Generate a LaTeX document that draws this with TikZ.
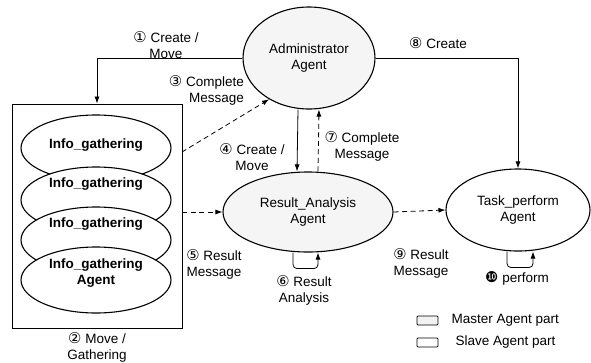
\documentclass[tikz,border=0pt]{standalone}
\usepackage{fontspec}
\setmainfont{Liberation Sans}
\newfontfamily\circfont[Scale=1.1]{DejaVu Sans}
\usetikzlibrary{arrows.meta,positioning,shapes.geometric}
\newcommand{\cnum}[1]{{\circfont #1}}
\newcommand{\diagfont}{\fontsize{13.5}{16}\selectfont}

\begin{document}
\begin{tikzpicture}[
    x=1pt, y=-1pt,
    >=Latex,
    agent/.style={draw, ellipse, line width=1.1pt, inner sep=0pt, align=center, font=\diagfont},
    master/.style={agent, fill=gray!8},
    gather/.style={draw, ellipse, line width=1.1pt, fill=white, minimum width=150pt, minimum height=66pt, inner sep=0pt},
    gtext/.style={align=center, inner sep=0pt, font=\diagfont\bfseries},
    lbl/.style={align=center, inner sep=0pt, font=\diagfont},
    legbox/.style={draw, line width=0.8pt, rounded corners=1pt, minimum width=21pt, minimum height=9pt, inner sep=0pt},
    line/.style={-{Latex[length=7pt,width=5pt]}, line width=0.8pt},
    dline/.style={line, dash pattern=on 5pt off 3.5pt}
]
\useasboundingbox (0,0) rectangle (591,362);

% Master agents and the slave task agent.
\node[master, minimum width=132pt, minimum height=102pt] (admin) at (309,58) {Administrator\\Agent};
\node[master, minimum width=170pt, minimum height=80pt] (ra) at (308,212) {Result\_Analysis\\Agent};
\node[agent, minimum width=144pt, minimum height=82pt] (task) at (518,210) {Task\_perform\\Agent};

% Box of stacked gathering agents.
\node[draw, line width=0.9pt, minimum width=170pt, minimum height=224pt, inner sep=0pt] (box) at (97,216) {};
\node[gather] (ig1) at (96,148) {};
\node[gather] (ig2) at (96,200) {};
\node[gather] (ig3) at (96,240) {};
\node[gather] (ig4) at (96,280) {};
\node[gtext] (ig1t) at (96,145) {Info\_gathering};
\node[gtext] (ig2t) at (96,184) {Info\_gathering};
\node[gtext] (ig3t) at (96,224) {Info\_gathering};
\node[gtext] (ig4t) at (96,273) {Info\_gathering\\Agent};

% Free ends on the box side.
\coordinate (out3) at (182,152);
\coordinate (out5) at (182,212);

% Arrows.
\draw[line] (admin.west) -| (box.north);
\draw[line] (admin.east) -| (task.north);
\draw[dline] (out3) -- (admin.226);
\draw[dline] (out5) -- (ra.west);
\draw[line] ([xshift=-11pt]admin.south) -- ([xshift=-11pt]ra.north);
\draw[dline] ([xshift=10pt]ra.north) -- ([xshift=10pt]admin.south);
\draw[dline] (ra.east) -- (task.west);
\draw[line, rounded corners=4pt] ([xshift=-15pt]ra.south) -- ++(0,16) -- ++(25,0) -- ([xshift=10pt]ra.south);
\draw[line, rounded corners=4pt] ([xshift=-11pt]task.south) -- ++(0,16) -- ++(26,0) -- ([xshift=15pt]task.south);

% Step labels.
\node[lbl] (l1) at (166,45) {\cnum{①} Create /\\Move};
\node[lbl, below=4pt of box] (l2) {\cnum{②} Move /\\Gathering};
\node[lbl, align=right, anchor=east] (l3) at (244,90) {\cnum{③} Complete\\Message};
\node[lbl] (l4) at (252,157) {\cnum{④} Create /\\Move};
\node[lbl] (l5) at (214,264) {\cnum{⑤} Result\\Message};
\node[lbl] (l6) at (304,290) {\cnum{⑥} Result\\Analysis};
\node[lbl] (l7) at (362,146) {\cnum{⑦} Complete\\Message};
\node[lbl] (l8) at (438,43) {\cnum{⑧} Create};
\node[lbl] (l9) at (421,263) {\cnum{⑨} Result\\Message};
\node[lbl] (l10) at (517,278) {\cnum{❿} perform};

% Legend.
\node[legbox, fill=gray!10] (mkey) at (427.5,320.5) {};
\node[legbox] (skey) at (427.5,342.5) {};
\node[lbl, right=13pt of mkey] (mtext) {Master Agent part};
\node[lbl, right=17pt of skey] (stext) {Slave Agent part};

\end{tikzpicture}
\end{document}
